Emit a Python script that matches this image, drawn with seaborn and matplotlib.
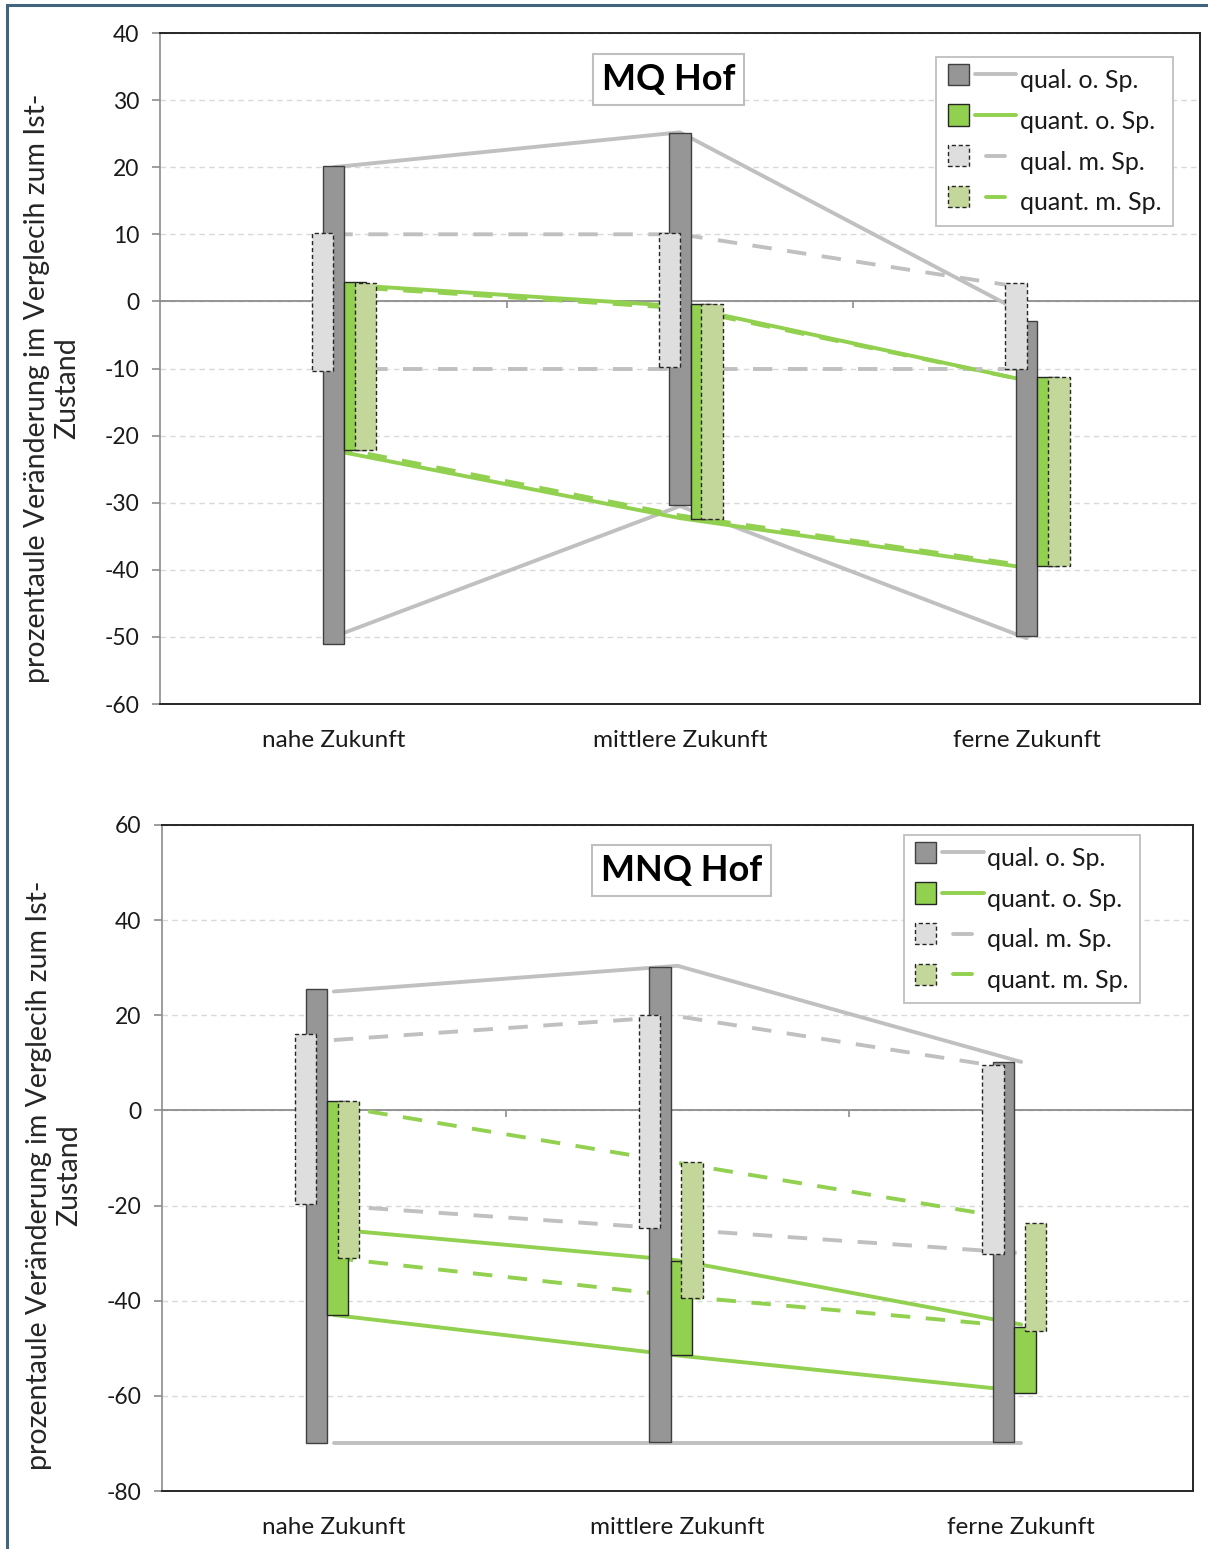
import numpy as np
import pandas as pd
import matplotlib.pyplot as plt
import seaborn as sns
from matplotlib.patches import Rectangle
from matplotlib.lines import Line2D

# --- Daten ---------------------------------------------------------------
categories = ["nahe Zukunft", "mittlere Zukunft", "ferne Zukunft"]
series = ["qual. o. Sp.", "quant. o. Sp.", "qual. m. Sp.", "quant. m. Sp."]

# MQ Hof: Balken (Spannweite oben / unten)
mq_bar_qual_o_hi = [20.2, 25.1, -2.9]
mq_bar_qual_o_lo = [-51.0, -30.3, -49.8]
mq_bar_quant_o_hi = [2.9, -0.4, -11.2]
mq_bar_quant_o_lo = [-22.1, -32.4, -39.5]
mq_bar_qual_m_hi = [10.2, 10.2, 2.7]
mq_bar_qual_m_lo = [-10.4, -9.8, -10.1]
mq_bar_quant_m_hi = [2.8, -0.4, -11.2]
mq_bar_quant_m_lo = [-22.1, -32.4, -39.5]

# MQ Hof: Verbindungslinien
mq_line_qual_o_hi = [20.0, 25.2, -2.0]
mq_line_qual_o_lo = [-50.0, -30.5, -50.2]
mq_line_quant_o_hi = [2.6, -0.7, -11.8]
mq_line_quant_o_lo = [-22.2, -32.3, -39.7]
mq_line_qual_m_hi = [10.0, 10.0, 2.0]
mq_line_qual_m_lo = [-10.0, -10.0, -10.0]
mq_line_quant_m_hi = [2.3, -1.0, -11.8]
mq_line_quant_m_lo = [-21.7, -31.9, -39.4]

# MNQ Hof: Balken
mnq_bar_qual_o_hi = [25.5, 30.1, 10.2]
mnq_bar_qual_o_lo = [-70.0, -69.6, -69.6]
mnq_bar_quant_o_hi = [2.0, -31.7, -45.5]
mnq_bar_quant_o_lo = [-43.0, -51.5, -59.5]
mnq_bar_qual_m_hi = [16.0, 20.0, 9.6]
mnq_bar_qual_m_lo = [-19.7, -24.7, -30.2]
mnq_bar_quant_m_hi = [2.0, -10.8, -23.7]
mnq_bar_quant_m_lo = [-31.0, -39.4, -46.4]

# MNQ Hof: Verbindungslinien
mnq_line_qual_o_hi = [25.0, 30.4, 10.2]
mnq_line_qual_o_lo = [-70.0, -70.0, -70.0]
mnq_line_quant_o_hi = [-25.0, -31.5, -45.0]
mnq_line_quant_o_lo = [-43.0, -51.5, -59.0]
mnq_line_qual_m_hi = [14.8, 19.8, 8.5]
mnq_line_qual_m_lo = [-20.0, -25.0, -30.0]
mnq_line_quant_m_hi = [1.0, -11.0, -23.0]
mnq_line_quant_m_lo = [-31.0, -39.0, -45.5]

mq_bars = {
    "qual. o. Sp.": (mq_bar_qual_o_hi, mq_bar_qual_o_lo),
    "quant. o. Sp.": (mq_bar_quant_o_hi, mq_bar_quant_o_lo),
    "qual. m. Sp.": (mq_bar_qual_m_hi, mq_bar_qual_m_lo),
    "quant. m. Sp.": (mq_bar_quant_m_hi, mq_bar_quant_m_lo),
}
mq_lines = {
    "qual. o. Sp.": (mq_line_qual_o_hi, mq_line_qual_o_lo),
    "quant. o. Sp.": (mq_line_quant_o_hi, mq_line_quant_o_lo),
    "qual. m. Sp.": (mq_line_qual_m_hi, mq_line_qual_m_lo),
    "quant. m. Sp.": (mq_line_quant_m_hi, mq_line_quant_m_lo),
}
mnq_bars = {
    "qual. o. Sp.": (mnq_bar_qual_o_hi, mnq_bar_qual_o_lo),
    "quant. o. Sp.": (mnq_bar_quant_o_hi, mnq_bar_quant_o_lo),
    "qual. m. Sp.": (mnq_bar_qual_m_hi, mnq_bar_qual_m_lo),
    "quant. m. Sp.": (mnq_bar_quant_m_hi, mnq_bar_quant_m_lo),
}
mnq_lines = {
    "qual. o. Sp.": (mnq_line_qual_o_hi, mnq_line_qual_o_lo),
    "quant. o. Sp.": (mnq_line_quant_o_hi, mnq_line_quant_o_lo),
    "qual. m. Sp.": (mnq_line_qual_m_hi, mnq_line_qual_m_lo),
    "quant. m. Sp.": (mnq_line_quant_m_hi, mnq_line_quant_m_lo),
}

ylabel = "prozentaule Veränderung im Verglecih zum Ist-\nZustand"

# --- Stil ----------------------------------------------------------------
DASH = (0, (5, 4))
BOX_DASH = (0, (3, 2))
STYLE = {
    "qual. o. Sp.": dict(fill="#969696", edge="#404040", els="solid", line="#c0c0c0", ls="solid", z=3),
    "quant. o. Sp.": dict(fill="#92d050", edge="#262626", els="solid", line="#92d050", ls="solid", z=3),
    "qual. m. Sp.": dict(fill="#dedede", edge="#262626", els=BOX_DASH, line="#c0c0c0", ls=DASH, z=4),
    "quant. m. Sp.": dict(fill="#c4d79b", edge="#262626", els=BOX_DASH, line="#92d050", ls=DASH, z=4),
}

sns.set_theme(style="white")
plt.rcParams["font.family"] = ["Lato", "DejaVu Sans"]
plt.rcParams["text.color"] = "#1a1a1a"
plt.rcParams["axes.unicode_minus"] = False


class LegendKey:
    def __init__(self, name):
        self.st = STYLE[name]


class PatchLineHandler:
    def legend_artist(self, legend, orig_handle, fontsize, handlebox):
        st = orig_handle.st
        x0, y0 = handlebox.xdescent, handlebox.ydescent
        w, h = handlebox.width, handlebox.height
        s = 0.85 * fontsize
        tr = handlebox.get_transform()
        rect = Rectangle((x0, y0 + h / 2 - s / 2), s, s, facecolor=st["fill"],
                         edgecolor=st["edge"], lw=1.0, linestyle=st["els"], transform=tr)
        xs = x0 + s + 0.25 * fontsize
        if st["ls"] == "solid":
            xx = [xs, x0 + w]
        else:
            mid = (xs + x0 + w) / 2
            xx = [mid - 0.38 * fontsize, mid + 0.38 * fontsize]
        ln = Line2D(xx, [y0 + h / 2] * 2, color=st["line"], lw=2.8, transform=tr)
        handlebox.add_artist(rect)
        handlebox.add_artist(ln)
        return rect


W, H = 1208, 1549
fig = plt.figure(figsize=(W / 100, H / 100), dpi=100)


def px_axes(left, top, right, bottom):
    return fig.add_axes([left / W, 1 - bottom / H, (right - left) / W, (bottom - top) / H])


def draw_panel(ax, bars, lines, ylim, ystep, title, title_xy, leg_anchor, shift, ylab_xy):
    x = np.arange(len(categories))
    w = 0.062
    offsets = {"qual. m. Sp.": -w, "qual. o. Sp.": -w / 2, "quant. o. Sp.": w / 2, "quant. m. Sp.": w}

    for name in series:
        st = STYLE[name]
        for yv in lines[name]:
            df = pd.DataFrame({"pos": x, "wert": yv})
            sns.lineplot(data=df, x="pos", y="wert", ax=ax, color=st["line"], lw=2.8,
                         linestyle=st["ls"], zorder=2, legend=False)
    for name in ["qual. o. Sp.", "quant. o. Sp.", "qual. m. Sp.", "quant. m. Sp."]:
        st = STYLE[name]
        hi, lo = np.array(bars[name][0]), np.array(bars[name][1])
        ax.bar(x + shift + offsets[name], hi - lo, bottom=lo, width=w, color=st["fill"],
               edgecolor=st["edge"], linewidth=1.0, linestyle=st["els"], zorder=st["z"])

    ax.set_xlim(-0.5, 2.5)
    ax.set_ylim(*ylim)
    ax.set_yticks(np.arange(ylim[0], ylim[1] + 1, ystep))
    ax.yaxis.grid(True, color="#d9d9d9", linestyle=(0, (4, 3)), lw=1.0)
    ax.set_axisbelow(True)
    ax.axhline(0, color="#8c8c8c", lw=1.3, zorder=1.5)

    ax.set_xticks(x, categories)
    ax.tick_params(axis="x", length=0, pad=19, labelsize=17.5, labelcolor="#1a1a1a")
    ax.tick_params(axis="y", left=True, length=6, width=1.2, color="#8c8c8c", pad=9,
                   labelsize=16.5, labelcolor="#1a1a1a")
    ax.set_xlabel("")
    ax.set_ylabel(ylabel, fontsize=20.5, linespacing=1.2)
    ax.yaxis.set_label_coords(*ylab_xy)

    for sp in ["top", "right", "bottom"]:
        ax.spines[sp].set_color("#262626")
        ax.spines[sp].set_linewidth(1.4)
    ax.spines["left"].set_color("#8c8c8c")
    ax.spines["left"].set_linewidth(1.2)

    # Teilstriche an der Nulllinie zwischen den Kategorien
    sec = ax.secondary_xaxis((0 - ylim[0]) / (ylim[1] - ylim[0]))
    sec.xaxis.set_ticks_position("bottom")
    sec.set_xticks([0.5, 1.5], labels=["", ""])
    sec.tick_params(axis="x", bottom=True, top=False, direction="out", length=5,
                    width=1.2, color="#8c8c8c")
    for sp in sec.spines.values():
        sp.set_visible(False)

    ax.text(*title_xy, title, transform=ax.transAxes, ha="center", va="center",
            fontsize=26, fontweight="bold", color="black", zorder=6,
            bbox=dict(boxstyle="square,pad=0.25", facecolor="white", edgecolor="#bfbfbf", lw=1.5))

    handles = [LegendKey(n) for n in series]
    leg = ax.legend(handles, series, handler_map={LegendKey: PatchLineHandler()},
                    loc="upper right", bbox_to_anchor=leg_anchor, borderaxespad=0,
                    frameon=True, fancybox=False, framealpha=1, edgecolor="#bfbfbf",
                    fontsize=18, handlelength=2.75, handleheight=1.0, labelspacing=0.68,
                    borderpad=0.45, handletextpad=0.15)
    leg.get_frame().set_linewidth(1.3)
    leg.set_zorder(7)


ax1 = px_axes(160, 33, 1200, 704)
ax2 = px_axes(162, 825, 1193, 1491)

draw_panel(ax1, mq_bars, mq_lines, (-60, 40), 10, "MQ Hof", (0.489, 0.931),
           (0.974, 0.964), 0.031, (-0.077, 0.471))
draw_panel(ax2, mnq_bars, mnq_lines, (-80, 60), 20, "MNQ Hof", (0.504, 0.932),
           (0.9486, 0.985), -0.02, (-0.077, 0.4745))

# Rahmen um die Abbildung
fig.add_artist(Rectangle((7 / W, -0.05), 1.2, 1.05 - 5 / H, transform=fig.transFigure,
                         fill=False, edgecolor="#41647f", lw=2.2))

fig.savefig("out.png", dpi=100)
